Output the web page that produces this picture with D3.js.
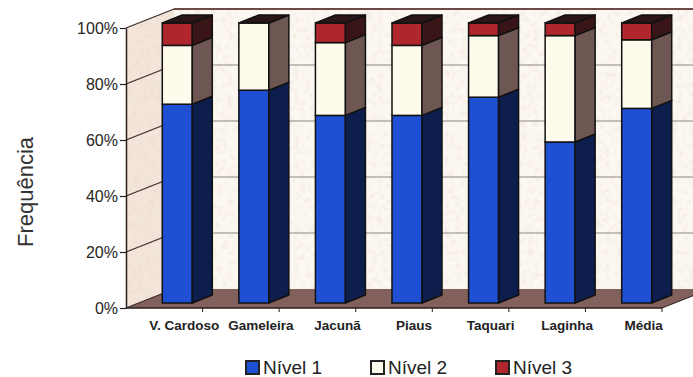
<!DOCTYPE html>
<html>
<head>
<meta charset="utf-8">
<script src="https://cdn.jsdelivr.net/npm/d3@7"></script>
<style>
  body { margin: 0; background: #fff; }
  text { font-family: 'Liberation Sans', Arial, sans-serif; }
</style>
</head>
<body>
<script>
// data (percent of each level per locality)
const categories = ['V. Cardoso', 'Gameleira', 'Jacunã', 'Piaus', 'Taquari', 'Laginha', 'Média']
const nivel1 = [71, 76, 67, 67, 73.5, 57.5, 69.5]
const nivel2 = [21, 24, 26, 25, 22, 38, 24.5]
const nivel3 = [8, 0, 7, 8, 4.5, 4.5, 6]
const seriesNames = ['Nível 1', 'Nível 2', 'Nível 3']
const yTicks = [0, 20, 40, 60, 80, 100]

let width = 693,
    height = 377

let svg = d3.select('body').append('svg')
    .attr('width', width)
    .attr('height', height)

// 3d offsets: whole box, bar position inside it, bar thickness
const depth = {dx: 48, dy: -19}
const barShift = {dx: 13, dy: -5}
const barDepth = {dx: 20, dy: -8}
const barWidth = 30

const colors = [
  {front: '#1f50d4', side: '#0d1d4c'},
  {front: '#fffbec', side: '#6e5752'},
  {front: '#b0262d', side: '#3a1518'}
]
const topColor = '#2a1616'
const keys = ['n1', 'n2', 'n3']

let x = d3.scaleBand().domain(categories).range([126, 662])
let y = d3.scaleLinear().domain([0, 100]).range([308, 28])

let rows = categories.map((c, i) => ({cat: c, n1: nivel1[i], n2: nivel2[i], n3: nivel3[i]}))
let stacked = d3.stack().keys(keys)(rows)

let defs = svg.append('defs')
let grain = defs.append('filter')
    .attr('id', 'grain')
    .attr('x', 0).attr('y', 0).attr('width', 1).attr('height', 1)
grain.append('feTurbulence')
    .attr('type', 'fractalNoise')
    .attr('baseFrequency', 0.18)
    .attr('numOctaves', 2)
    .attr('seed', 4)
    .attr('result', 'noise')
grain.append('feColorMatrix')
    .attr('in', 'noise')
    .attr('type', 'matrix')
    .attr('values', '0 0 0 0 0.8  0 0 0 0 0.65  0 0 0 0 0.6  0.9 0 0 0 -0.4')
    .attr('result', 'spots')
grain.append('feComposite')
    .attr('in', 'spots').attr('in2', 'SourceGraphic')
    .attr('operator', 'in')
    .attr('result', 'clipped')
let gm = grain.append('feMerge')
gm.append('feMergeNode').attr('in', 'SourceGraphic')
gm.append('feMergeNode').attr('in', 'clipped')

const pts = p => p.map(d => d.join(',')).join(' ')

let x0 = x.range()[0], x1 = x.range()[1]
let yTop = y(100), yBot = y(0)

// walls and floor
let walls = svg.append('g').attr('class', 'walls')
walls.append('polygon')
    .attr('points', pts([[x0 + depth.dx, yTop + depth.dy], [x1 + depth.dx, yTop + depth.dy], [x1 + depth.dx, yBot + depth.dy], [x0 + depth.dx, yBot + depth.dy]]))
    .attr('fill', '#fcf8f1')
    .attr('filter', 'url(#grain)')
walls.append('polygon')
    .attr('points', pts([[x0, yBot], [x0, yTop], [x0 + depth.dx, yTop + depth.dy], [x0 + depth.dx, yBot + depth.dy]]))
    .attr('fill', '#f3e5da')
    .attr('filter', 'url(#grain)')
walls.append('polygon')
    .attr('points', pts([[x0, yBot], [x1, yBot], [x1 + depth.dx, yBot + depth.dy], [x0 + depth.dx, yBot + depth.dy]]))
    .attr('fill', '#82605b')

// gridlines
let grid = svg.append('g').attr('class', 'grid')
grid.selectAll('.back').data(yTicks.slice(1, -1)).join('line')
    .attr('x1', x0 + depth.dx).attr('x2', x1 + depth.dx)
    .attr('y1', d => y(d) + depth.dy).attr('y2', d => y(d) + depth.dy)
    .attr('stroke', '#8c8784').attr('stroke-width', 1)
grid.selectAll('.side').data(yTicks).join('line')
    .attr('x1', x0).attr('x2', x0 + depth.dx)
    .attr('y1', d => y(d)).attr('y2', d => y(d) + depth.dy)
    .attr('stroke', '#3a2a28').attr('stroke-width', 1.2)
grid.append('line')
    .attr('x1', x0 + depth.dx).attr('x2', x1 + depth.dx)
    .attr('y1', yTop + depth.dy).attr('y2', yTop + depth.dy)
    .attr('stroke', '#6b4b46').attr('stroke-width', 2)

// y axis
let yAxis = svg.append('g')
    .attr('transform', 'translate(' + x0 + ',0)')
    .call(d3.axisLeft(y).tickValues(yTicks).tickFormat(d => d + '%').tickSize(6).tickSizeOuter(0))
yAxis.select('.domain').attr('stroke', '#2a1e1e').attr('stroke-width', 1.5)
yAxis.selectAll('.tick line').attr('stroke', '#2a1e1e').attr('stroke-width', 1.2)
yAxis.selectAll('.tick text')
    .attr('x', -8)
    .style('font-size', '16px')
    .style('font-family', "'Liberation Sans', Arial, sans-serif")
    .attr('fill', '#262626')

// x axis: floor front edge with ticks at band limits
let xAxis = svg.append('g').attr('class', 'xaxis')
xAxis.append('line')
    .attr('x1', x0).attr('x2', x1)
    .attr('y1', yBot).attr('y2', yBot)
    .attr('stroke', '#2a1e1e').attr('stroke-width', 1.5)
xAxis.append('line')
    .attr('x1', x1).attr('x2', x1 + depth.dx)
    .attr('y1', yBot).attr('y2', yBot + depth.dy)
    .attr('stroke', '#2a1e1e').attr('stroke-width', 1)
xAxis.selectAll('.xt').data(categories).join('line')
    .attr('x1', d => x(d) + x.bandwidth()).attr('x2', d => x(d) + x.bandwidth())
    .attr('y1', yBot).attr('y2', yBot + 4)
    .attr('stroke', '#2a1e1e').attr('stroke-width', 1)
xAxis.selectAll('text').data(categories).join('text')
    .attr('x', d => x(d) + x.bandwidth() / 2 + 20)
    .attr('y', 330)
    .attr('text-anchor', 'middle')
    .style('font-size', '13.5px')
    .style('font-weight', 'bold')
    .attr('fill', '#222')
    .text(d => d)

// bars
let bars = svg.append('g').attr('class', 'bars')
  .selectAll('g').data(categories).join('g')

bars.each(function (c, i) {
  let g = d3.select(this)
  let xl = x(c) + (x.bandwidth() - barWidth) / 2 + barShift.dx
  let xr = xl + barWidth
  let topY = null
  stacked.forEach((s, k) => {
    let v0 = s[i][0], v1 = s[i][1]
    if (v1 - v0 <= 0) return
    let yt = y(v1) + barShift.dy, yb = y(v0) + barShift.dy
    g.append('rect')
        .attr('x', xl).attr('y', yt)
        .attr('width', barWidth).attr('height', yb - yt)
        .attr('fill', colors[k].front)
        .attr('stroke', '#111').attr('stroke-width', 1.5)
    g.append('polygon')
        .attr('points', pts([[xr, yb], [xr, yt], [xr + barDepth.dx, yt + barDepth.dy], [xr + barDepth.dx, yb + barDepth.dy]]))
        .attr('fill', colors[k].side)
        .attr('stroke', '#111').attr('stroke-width', 1.5)
        .attr('stroke-linejoin', 'round')
    topY = yt
  })
  g.append('polygon')
      .attr('points', pts([[xl, topY], [xr, topY], [xr + barDepth.dx, topY + barDepth.dy], [xl + barDepth.dx, topY + barDepth.dy]]))
      .attr('fill', topColor)
      .attr('stroke', '#111').attr('stroke-width', 1.5)
      .attr('stroke-linejoin', 'round')
})

// y title
svg.append('text')
    .attr('transform', 'translate(33,192) rotate(-90)')
    .attr('text-anchor', 'middle')
    .style('font-size', '22px')
    .attr('fill', '#333')
    .text('Frequência')

// legend
let legend = svg.append('g').attr('class', 'legend')
  .selectAll('g').data(seriesNames).join('g')
    .attr('transform', (d, i) => 'translate(' + (246 + i * 125) + ',361)')
legend.append('rect')
    .attr('width', 13).attr('height', 13)
    .attr('fill', (d, i) => colors[i].front)
    .attr('stroke', '#222').attr('stroke-width', 2)
legend.append('text')
    .attr('x', 17).attr('y', 13)
    .style('font-size', '19px')
    .attr('fill', '#222')
    .text(d => d)
</script>
</body>
</html>
